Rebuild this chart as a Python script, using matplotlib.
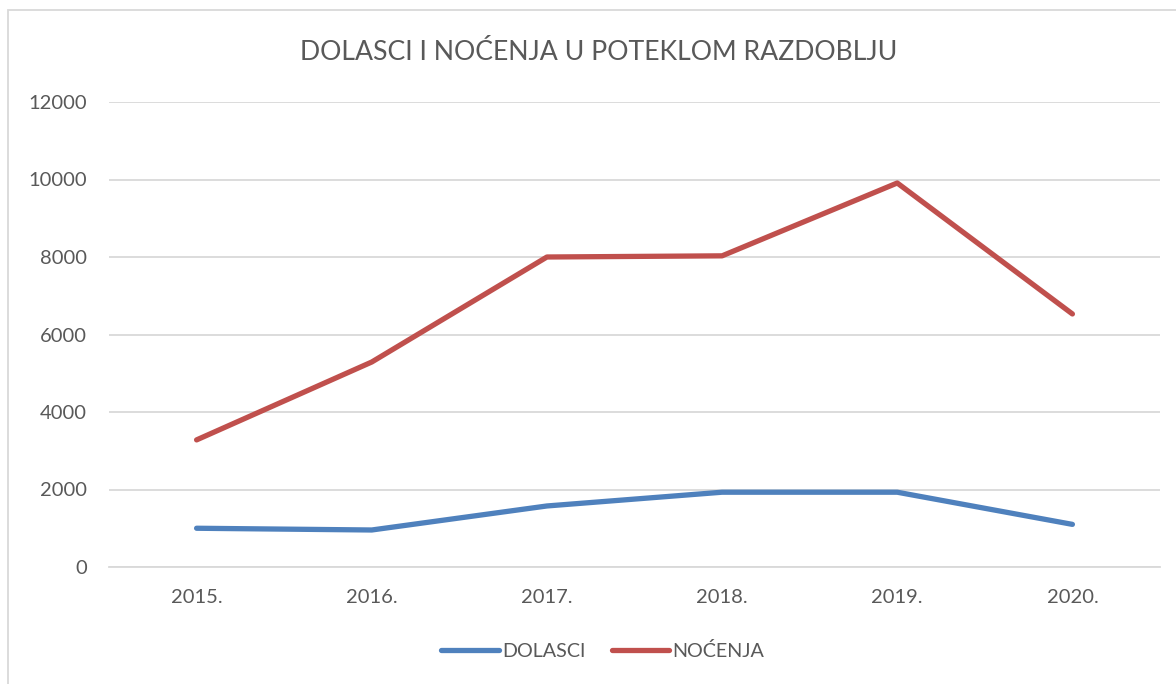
import matplotlib
matplotlib.use("Agg")
import matplotlib.pyplot as plt
from matplotlib.patches import Rectangle

years = ["2015.", "2016.", "2017.", "2018.", "2019.", "2020."]
dolasci = [1000, 955, 1575, 1930, 1930, 1100]
nocenja = [3280, 5290, 8000, 8030, 9910, 6530]
yticks = [0, 2000, 4000, 6000, 8000, 10000, 12000]

plt.rcParams['font.family'] = ['Lato', 'DejaVu Sans']

W, H = 1176, 684
fig = plt.figure(figsize=(W/100, H/100), dpi=100)
ax = fig.add_axes([109/W, 1-567/H, (1160-109)/W, (567-102)/H])

x = list(range(len(years)))
blue = "#4F81BD"
red = "#C0504D"
ax.plot(x, dolasci, color=blue, lw=3.8, solid_capstyle='round', solid_joinstyle='round', label="DOLASCI")
ax.plot(x, nocenja, color=red, lw=3.8, solid_capstyle='round', solid_joinstyle='round', label="NOĆENJA")

ax.set_xlim(-0.5, len(years)-0.5)
ax.set_ylim(0, 12000)
ax.set_yticks(yticks)
ax.set_yticklabels([str(v) for v in yticks])
ax.set_xticks(x)
ax.set_xticklabels(years)
ax.grid(axis='y', color="#D9D9D9", lw=1.3)
ax.set_axisbelow(True)
for s in ['top', 'right', 'left']:
    ax.spines[s].set_visible(False)
ax.spines['bottom'].set_color("#D9D9D9")
ax.spines['bottom'].set_linewidth(1.3)
ax.tick_params(axis='both', length=0, labelsize=14.5, colors="#595959")
ax.tick_params(axis='y', pad=16)
ax.tick_params(axis='x', pad=16)

fig.text(599/W, 1-52/H, "DOLASCI I NOĆENJA U POTEKLOM RAZDOBLJU", ha='center', va='center',
         fontsize=19.2, color="#595959")

leg = fig.legend(loc='center', bbox_to_anchor=(603/W, 1-651/H), ncol=2, frameon=False,
                 fontsize=14.2, handlelength=2.9, handletextpad=0.2, columnspacing=1.3)
for t in leg.get_texts():
    t.set_color("#595959")

fig.patches.append(Rectangle((8/W, -0.1), 1.2, 1-10/H+0.1, transform=fig.transFigure,
                             fill=False, edgecolor="#D9D9D9", lw=1.3))

fig.savefig("out.png", dpi=100, facecolor="white")
